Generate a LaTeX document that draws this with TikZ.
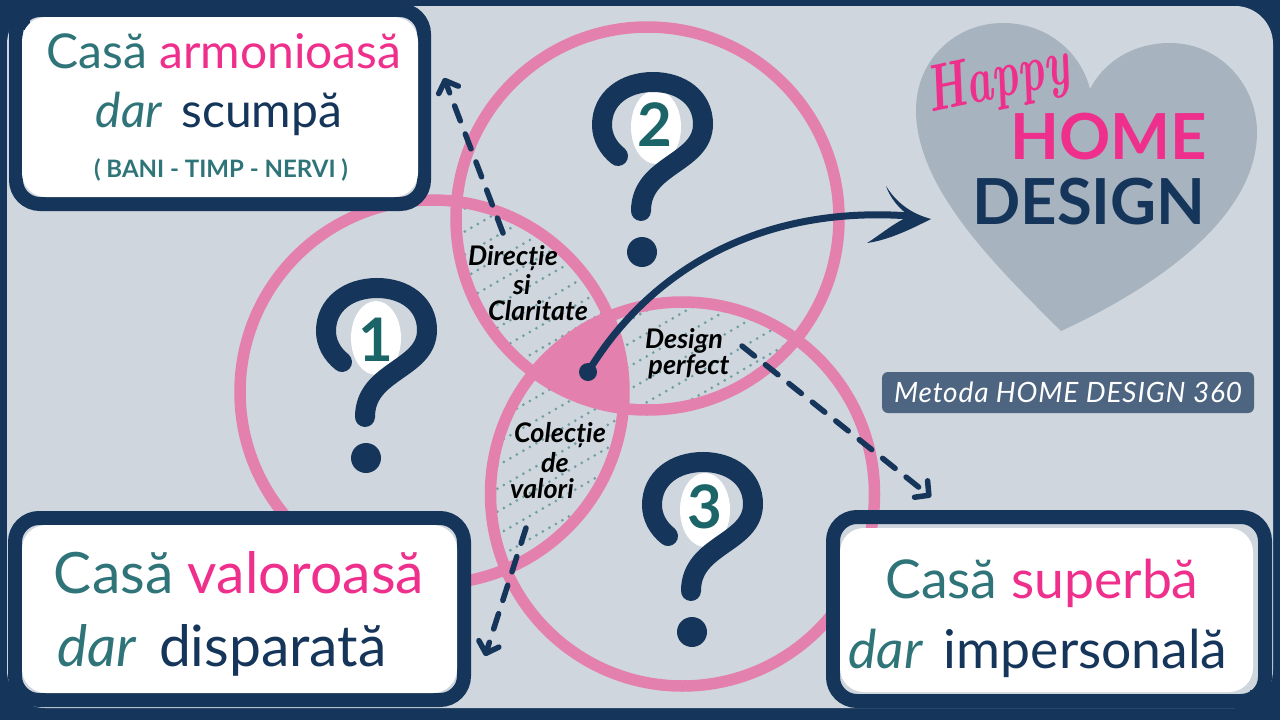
\documentclass[tikz,border=0pt]{standalone}
\usepackage{fontspec}
\setsansfont{Lato}
\usetikzlibrary{arrows.meta}

\definecolor{navy}{HTML}{15365A}
\definecolor{fundal}{HTML}{CFD6DD}
\definecolor{roz}{HTML}{E480AE}
\definecolor{magenta}{HTML}{EF2F8C}
\definecolor{teal}{HTML}{2F7478}
\definecolor{cifre}{HTML}{1B6568}
\definecolor{inima}{HTML}{A7B3BE}
\definecolor{eticheta}{HTML}{4D6580}
\definecolor{punct}{HTML}{6F9EA3}

\tikzset{
    cerc/.style={draw=roz, line width=11.5},
    ramă/.style={draw=navy, line width=14, rounded corners=24},
    alb/.style={fill=white, rounded corners=24},
    hasura/.style={punct, line width=3, line cap=round, dash pattern=on 0pt off 7.5pt},
    sageata/.style={navy, line width=5.5, line cap=round, dash pattern=on 16pt off 14pt,
        -{Straight Barb[length=10pt, width=21pt, line width=5.5pt, round]}},
    mare/.style={anchor=base, inner sep=0, font=\sffamily\fontsize{57}{60}\selectfont},
    mediu/.style={anchor=base, inner sep=0, font=\sffamily\fontsize{48}{50}\selectfont},
    dreapta/.style={anchor=base, inner sep=0, font=\sffamily\fontsize{53.5}{56}\selectfont},
    zona/.style={inner sep=0, text=black, font=\sffamily\bfseries\itshape\fontsize{27}{29}\selectfont},
    cifra/.style={inner sep=0, text=cifre, font=\sffamily\bfseries\fontsize{60}{62}\selectfont},
    logo/.style={anchor=base, inner sep=0, font=\sffamily\bfseries\fontsize{63.5}{66}\selectfont},
    oval/.style={fill=white},
    intrebare/.pic={
        \draw [navy, line width=20, line cap=round] ( -35, 22 ) .. controls ( -45, 14 ) and ( -51, 3 ) .. ( -51, -9 )
            .. controls ( -51, -36 ) and ( -28, -52 ) .. ( 0, -52 )
            .. controls ( 28, -52 ) and ( 50, -36 ) .. ( 50, -10 )
            .. controls ( 50, 30 ) and ( -12, 30 ) .. ( -12, 77 );
        \fill [navy] ( -11, 118 ) circle [radius=15];
    },
}

\begin{document}
\begin{tikzpicture}[x=1pt, y=-1pt]
    \useasboundingbox ( 0, 0 ) rectangle ( 1280, 720 );

    % cadru
    \fill [navy] ( 0, 0 ) rectangle ( 1280, 720 );
    \fill [fundal, rounded corners=38] ( 7, 6 ) rectangle ( 1273, 708 );
    \fill [navy] ( 0, 0 ) rectangle ( 30, 30 );
    \fill [navy] ( 0, 690 ) rectangle ( 30, 720 );
    \fill [navy] ( 1250, 690 ) rectangle ( 1280, 720 );

    % inima
    \fill [inima] ( 1061, 331 ) .. controls ( 1000, 270 ) and ( 916, 190 ) .. ( 916, 110 )
        .. controls ( 916, 60 ) and ( 955, 23 ) .. ( 1003, 23 )
        .. controls ( 1045, 23 ) and ( 1080, 50 ) .. ( 1090, 89 )
        .. controls ( 1105, 60 ) and ( 1135, 43 ) .. ( 1170, 43 )
        .. controls ( 1220, 43 ) and ( 1257, 85 ) .. ( 1257, 132 )
        .. controls ( 1257, 220 ) and ( 1150, 290 ) .. ( 1061, 331 ) -- cycle;
    \node [inner sep=0, rotate=12, xscale=.68, text=magenta, font=\rmfamily\itshape\bfseries\fontsize{66}{68}\selectfont] (happy) at ( 998, 82 ) {Happy};
    \node [logo, text=magenta] (home) at ( 1109, 159 ) {HOME};
    \node [logo, text=navy] (design) at ( 1089, 224 ) {DESIGN};

    % cercuri
    \coordinate (c1) at ( 432, 392 );
    \coordinate (c2) at ( 647.5, 218.5 );
    \coordinate (c3) at ( 682.5, 494 );

    % hasura
    \begin{scope}
        \clip (c1) circle [radius=192];
        \clip (c2) circle [radius=191.5];
        \foreach \d in {200, 223, ..., 1100}
            \draw [hasura] ( 400, \d ) -- ( 900, \d - 289 );
    \end{scope}
    \begin{scope}
        \clip (c2) circle [radius=191.5];
        \clip (c3) circle [radius=192];
        \foreach \d in {200, 223, ..., 1100}
            \draw [hasura] ( 400, \d ) -- ( 900, \d - 289 );
    \end{scope}
    \begin{scope}
        \clip (c1) circle [radius=192];
        \clip (c3) circle [radius=192];
        \foreach \d in {200, 223, ..., 1100}
            \draw [hasura] ( 400, \d ) -- ( 900, \d - 289 );
    \end{scope}

    % centru
    \begin{scope}
        \clip (c1) circle [radius=192];
        \clip (c2) circle [radius=191.5];
        \fill [roz] (c3) circle [radius=192];
    \end{scope}

    \draw [cerc] (c1) circle [radius=192];
    \draw [cerc] (c2) circle [radius=191.5];
    \draw [cerc] (c3) circle [radius=192];

    % intrebari
    \fill [oval] ( 376, 338 ) ellipse [x radius=25, y radius=37];
    \fill [oval] ( 656, 127 ) ellipse [x radius=25, y radius=37];
    \fill [oval] ( 705, 510 ) ellipse [x radius=25, y radius=37];
    \pic at ( 377, 340 ) {intrebare};
    \pic at ( 653, 134 ) {intrebare};
    \pic at ( 703, 514 ) {intrebare};
    \node [cifra] (n1) at ( 376, 340 ) {1};
    \node [cifra] (n2) at ( 655, 125 ) {2};
    \node [cifra] (n3) at ( 705, 507 ) {3};

    % zone
    \node [zona] (z1) at ( 513, 258 ) {Direcție};
    \node [zona] (z2) at ( 522, 285 ) {si};
    \node [zona] (z3) at ( 538, 311 ) {Claritate};
    \node [zona] (z4) at ( 684, 341 ) {Design};
    \node [zona] (z5) at ( 689, 367 ) {perfect};
    \node [zona] (z6) at ( 560, 435 ) {Colecție};
    \node [zona] (z7) at ( 555, 463 ) {de};
    \node [zona] (z8) at ( 542, 489 ) {valori};

    % sageti
    \coordinate (s1) at ( 503, 233 );
    \coordinate (t1) at ( 444, 78 );
    \coordinate (s2) at ( 742, 346 );
    \coordinate (t2) at ( 931, 497 );
    \coordinate (s3) at ( 526, 528 );
    \coordinate (t3) at ( 485, 656 );
    \draw [sageata] (s1) -- (t1);
    \draw [sageata] (s2) -- (t2);
    \draw [sageata] (s3) -- (t3);

    % sageata mare
    \coordinate (pornire) at ( 588, 372 );
    \coordinate (varf) at ( 910, 216 );
    \fill [navy] (pornire) circle [radius=9];
    \draw [navy, line width=7] (pornire) .. controls ( 650, 270 ) and ( 760, 205 ) .. (varf);
    \fill [navy] ( 931, 219 ) .. controls ( 905, 212 ) and ( 893, 197 ) .. ( 886, 186 )
        .. controls ( 890, 198 ) and ( 900, 210 ) .. (varf)
        .. controls ( 895, 222 ) and ( 880, 235 ) .. ( 867, 243 )
        .. controls ( 890, 240 ) and ( 915, 227 ) .. ( 931, 219 ) -- cycle;

    % casete
    \draw [ramă] ( 16, 10 ) rectangle ( 424, 204 );
    \fill [alb] ( 22, 17 ) rectangle ( 418, 197 );
    \draw [ramă] ( 15, 518 ) rectangle ( 464, 700 );
    \fill [alb] ( 22, 525 ) rectangle ( 457, 693 );
    \draw [ramă] ( 833, 517 ) rectangle ( 1265, 701 );
    \fill [alb] ( 840, 528 ) rectangle ( 1253, 692 );

    % texte
    \node [mediu] (a1) at ( 224, 68 ) {\textcolor{teal}{Casă} \textcolor{magenta}{armonioasă}};
    \node [mediu] (a2) at ( 219, 127 ) {\textcolor{teal}{\itshape dar}\hspace{.4em}\textcolor{navy}{scumpă}};
    \node [anchor=base, inner sep=0, text=teal, font=\sffamily\bfseries\fontsize{24}{26}\selectfont] (a3) at ( 221, 177 ) {( BANI - TIMP - NERVI )};
    \node [mare] (b1) at ( 239, 593 ) {\textcolor{teal}{Casă} \textcolor{magenta}{valoroasă}};
    \node [mare] (b2) at ( 222, 666 ) {\textcolor{teal}{\itshape dar}\hspace{.4em}\textcolor{navy}{disparată}};
    \node [dreapta] (d1) at ( 1042, 598 ) {\textcolor{teal}{Casă} \textcolor{magenta}{superbă}};
    \node [dreapta] (d2) at ( 1038, 668 ) {\textcolor{teal}{\itshape dar}\hspace{.4em}\textcolor{navy}{impersonală}};

    % metoda
    \node [fill=eticheta, rounded corners=6, minimum width=372, minimum height=41, inner sep=0, text=white,
        font=\sffamily\itshape\fontsize{28}{30}\selectfont] (metoda) at ( 1068, 392.5 ) {\addfontfeature{LetterSpace=3}Metoda HOME DESIGN 360};
\end{tikzpicture}
\end{document}
